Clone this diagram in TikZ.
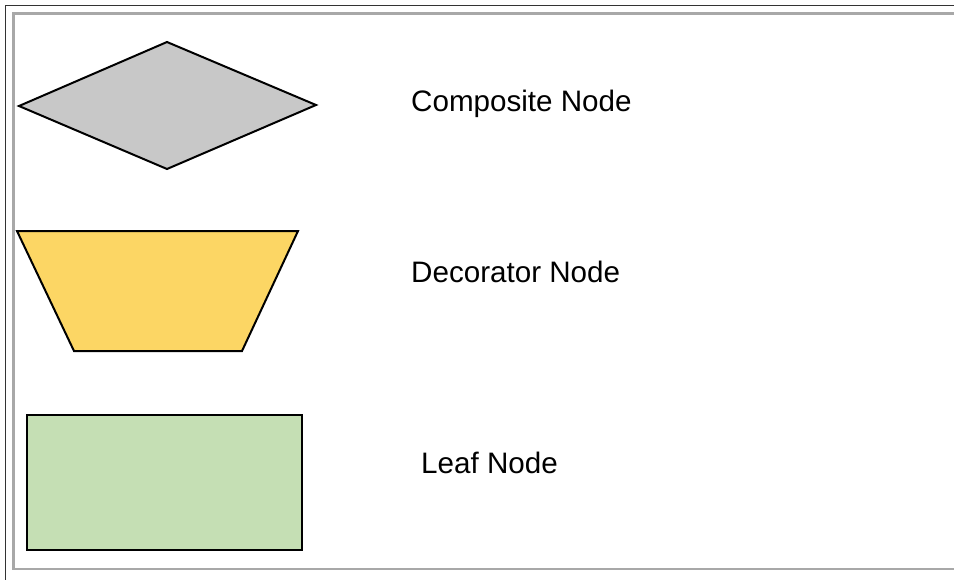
\documentclass[tikz,border=0pt]{standalone}
\usepackage{fontspec}
\setmainfont{Liberation Sans}
\definecolor{compgray}{HTML}{C8C8C8}
\definecolor{decoyellow}{HTML}{FCD664}
\definecolor{leafgreen}{HTML}{C5DFB4}
\definecolor{outerframe}{HTML}{333333}
\definecolor{innerframe}{HTML}{A8A8A8}
\tikzset{
  shapeline/.style={draw=black, line width=2pt, line join=miter},
  lbl/.style={anchor=base west, inner sep=0pt, font=\fontsize{29.6}{35}\selectfont},
}
\begin{document}
\begin{tikzpicture}[x=1pt,y=-1pt]
\useasboundingbox (0,0) rectangle (954,579);
\fill[white] (0,0) rectangle (954,579);
% frames
\draw[outerframe, line width=1.6pt] (5.5,600) -- (5.5,5.5) -- (970,5.5);
\draw[innerframe, line width=2.6pt] (970,13.5) -- (13.5,13.5) -- (13.5,569) -- (970,569);
% composite
\draw[shapeline, fill=compgray] (19,106) -- (167,42) -- (316,105) -- (167,169) -- cycle;
\node[lbl] (tcomp) at (411,111) {Composite Node};
% decorator
\draw[shapeline, fill=decoyellow] (17,231) -- (298,231) -- (242,351) -- (74,351) -- cycle;
\node[lbl] (tdeco) at (411,282) {Decorator Node};
% leaf
\draw[shapeline, fill=leafgreen] (26.5,415) rectangle (302,550);
\node[lbl] (tleaf) at (421,473) {Leaf Node};
\end{tikzpicture}
\end{document}
